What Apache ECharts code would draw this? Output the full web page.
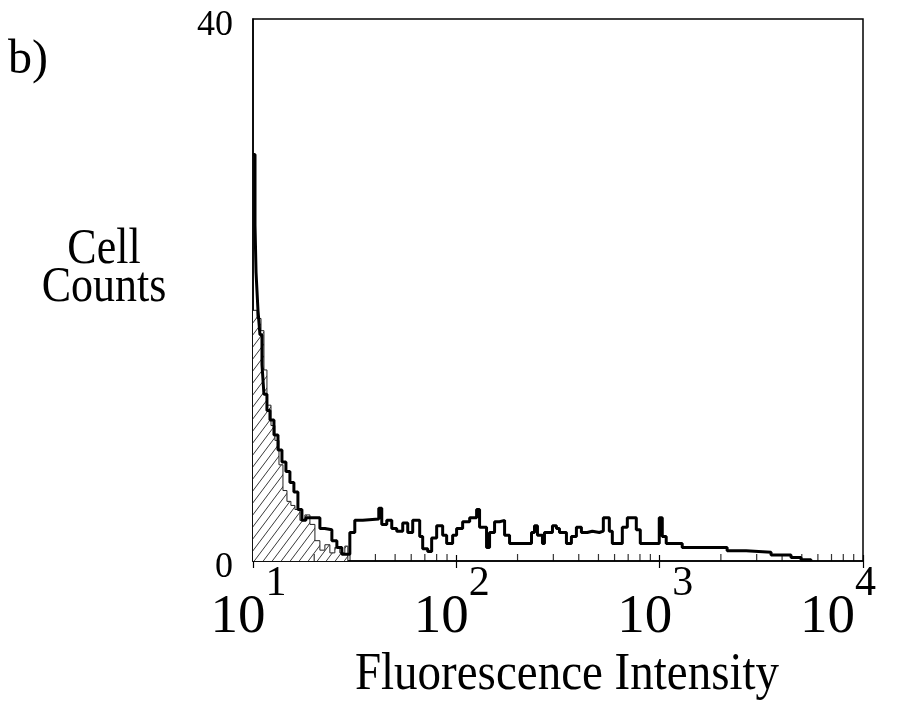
<!DOCTYPE html>
<html>
<head>
<meta charset="utf-8">
<script src="https://cdn.jsdelivr.net/npm/echarts/dist/echarts.min.js"></script>
<style>
html,body{margin:0;padding:0;background:#fff;}
#chart{width:909px;height:706px;}
</style>
</head>
<body>
<div id="chart"></div>
<script>
// ---- data ----
const sampleIntensity = [10, 10.23, 10.35, 10.58, 10.82, 11.07, 11.32, 11.71, 12.12, 12.68, 13.27, 13.88, 14.52, 15.19, 15.89, 16.63, 17.40, 18.20, 21.33, 22.57, 24.43, 25.85, 27.35, 29.94, 31.67, 34.67, 41.55, 42.98, 45.48, 48.13, 50.92, 54.50, 57.68, 61.02, 66.04, 68.32, 72.30, 75.63, 80.03, 85.66, 89.62, 95.9, 100.3, 107.4, 116.3, 125.8, 130.1, 140.8, 145.7, 154.2, 163.1, 172.7, 182.7, 234.2, 242.3, 250.6, 265.2, 271.3, 297.0, 310.7, 321.5, 347.9, 368.1, 389.5, 412.2, 441.0, 466.8, 505.1, 528.4, 565.5, 585.0, 655.1, 693.3, 767.5, 803.0, 995.4, 1030, 1077, 1291, 2147, 2661, 3530, 4426, 4957, 5549];
const sampleCounts = [30.0, 24.8, 21.3, 18.5, 16.7, 14.5, 12.3, 11.1, 10.4, 9.3, 8.2, 7.3, 6.6, 5.8, 5.1, 3.8, 3.0, 3.2, 2.4, 2.3, 1.5, 1.0, 0.5, 2.1, 3.0, 3.1, 3.9, 2.7, 3.0, 2.4, 2.2, 2.8, 2.1, 3.0, 1.8, 0.9, 0.7, 1.7, 2.6, 1.9, 1.3, 1.9, 2.4, 2.9, 3.2, 3.8, 2.5, 1.0, 2.1, 2.9, 3.0, 1.9, 1.3, 2.1, 2.6, 1.9, 1.3, 2.1, 2.6, 2.4, 2.1, 1.3, 1.8, 2.5, 2.1, 2.2, 2.1, 2.2, 3.2, 2.2, 1.3, 2.5, 3.2, 2.3, 1.3, 3.2, 1.8, 1.3, 1.0, 0.75, 0.65, 0.45, 0.25, 0.1, 0];
const controlIntensity = [10, 10.46, 10.95, 11.32, 11.71, 12.26, 12.82, 13.42, 14.04, 14.69, 15.36, 16.08, 17.01, 18.0, 19.05, 20.16, 21.33, 22.57, 23.88, 25.27, 26.73, 28.29, 29.27];
const controlCounts = [18.5, 17.9, 17.0, 14.1, 11.5, 10.0, 8.9, 7.1, 5.2, 4.4, 4.1, 3.8, 3.0, 3.4, 2.7, 1.5, 0.8, 1.2, 0.6, 1.0, 0.6, 1.1, 0];
const minorTickValues = [20, 30, 40, 50, 60, 70, 80, 90, 200, 300, 400, 500, 600, 700, 800, 900, 2000, 3000, 4000, 5000, 6000, 7000, 8000, 9000];
const xMin = 10, xMax = 10000;
const yMin = 0, yMax = 40;
const yTitle = 'Cell\nCounts';
const xTitle = 'Fluorescence Intensity';
const panelLabel = 'b)';

// ---- hatch pattern ----
const pc = document.createElement('canvas');
pc.width = 9; pc.height = 12;
const pctx = pc.getContext('2d');
pctx.fillStyle = '#fff';
pctx.fillRect(0, 0, 9, 12);
pctx.strokeStyle = '#222';
pctx.lineWidth = 0.9;
pctx.beginPath();
pctx.moveTo(0, 12); pctx.lineTo(9, 0);
pctx.moveTo(-1, 1.33); pctx.lineTo(1, -1.33);
pctx.moveTo(8, 13.33); pctx.lineTo(10, 10.67);
pctx.stroke();

const serif = '"Liberation Serif", "DejaVu Serif", serif';
const chart = echarts.init(document.getElementById('chart'), null, {renderer: 'canvas'});

const sampleData = sampleIntensity.map((v, i) => [v, sampleCounts[i]]);
const controlData = controlIntensity.map((v, i) => [v, controlCounts[i]]);

chart.setOption({
  animation: false,
  backgroundColor: '#fff',
  grid: {left: 253, right: 46, top: 19, bottom: 145, containLabel: false, outerBoundsMode: 'none',
    show: true, borderColor: '#000', borderWidth: 1.5, backgroundColor: 'transparent'},
  xAxis: [{
    type: 'log', logBase: 10, min: xMin, max: xMax, position: 'bottom',
    axisLine: {show: true, lineStyle: {color: '#000', width: 1.5}},
    axisTick: {show: true, inside: true, length: 6, lineStyle: {color: '#000', width: 1.2}},
    splitLine: {show: false},
    axisLabel: {
      show: true, margin: 2, showMinLabel: true, showMaxLabel: true, hideOverlap: false,
      formatter: function (v) {
        const e = Math.round(Math.log10(v));
        return '{a|10}{' + (e === 4 ? 'c' : 'b') + '|' + e + '}';
      },
      rich: {
        a: {fontFamily: serif, fontSize: 55, lineHeight: 110, color: '#000', verticalAlign: 'middle'},
        b: {fontFamily: serif, fontSize: 42, lineHeight: 36, color: '#000', padding: [0, 9, 0, 0], verticalAlign: 'top'},
        c: {fontFamily: serif, fontSize: 42, lineHeight: 36, color: '#000', padding: [0, 50, 0, 0], verticalAlign: 'top'}
      }
    }
  }, {
    type: 'log', logBase: 10, min: xMin, max: xMax, position: 'bottom', gridIndex: 0,
    axisLine: {show: false},
    axisTick: {show: true, inside: false, length: 7, lineStyle: {color: '#000', width: 1.2}},
    axisLabel: {show: false},
    splitLine: {show: false}
  }],
  yAxis: {
    type: 'value', min: yMin, max: yMax, interval: 40,
    axisLine: {show: true, lineStyle: {color: '#000', width: 1.5}},
    axisTick: {show: false},
    splitLine: {show: false},
    axisLabel: {fontFamily: serif, fontSize: 36, color: '#000', margin: 20, verticalAlign: 'top', lineHeight: 14}
  },
  series: [{
    type: 'line', step: 'end', data: controlData, symbol: 'none',
    lineStyle: {color: '#222', width: 1},
    areaStyle: {color: {image: pc, repeat: 'repeat'}, opacity: 1},
    z: 2
  }, {
    type: 'line', step: 'end', data: sampleData, symbol: 'none',
    lineStyle: {color: '#000', width: 3},
    z: 3
  }, {
    type: 'scatter', data: minorTickValues.map(v => [v, 0]),
    symbol: 'rect', symbolSize: [1.2, 7], symbolOffset: [0, -3.5],
    itemStyle: {color: '#000'}, silent: true, clip: false, z: 4
  }],
  graphic: [{
    type: 'text', left: 8, top: 36,
    style: {text: panelLabel, font: '48px ' + serif, fill: '#000'}
  }, {
    type: 'text', x: 104, y: 269, scaleY: 1.15,
    style: {text: yTitle, font: '44px ' + serif, fill: '#000', align: 'center', verticalAlign: 'middle', lineHeight: 33}
  }, {
    type: 'text', x: 567, y: 675, scaleY: 1.12,
    style: {text: xTitle, font: '47px ' + serif, fill: '#000', align: 'center', verticalAlign: 'middle'}
  }]
});
</script>
</body>
</html>
